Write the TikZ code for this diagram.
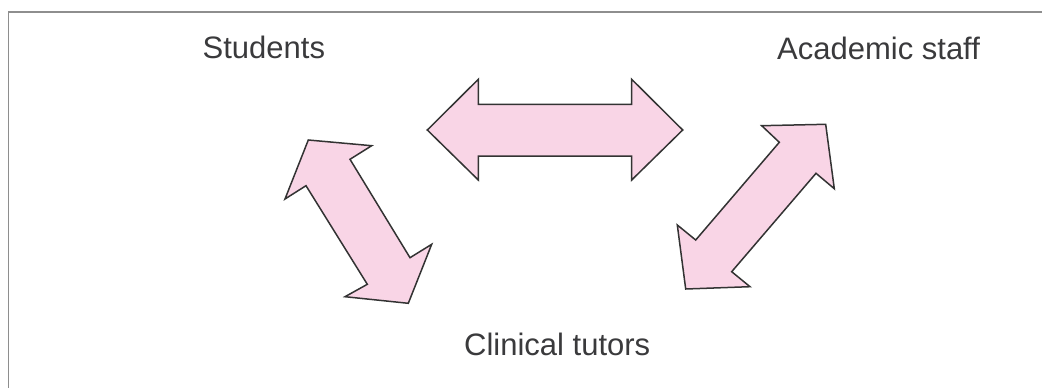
\documentclass[tikz,border=0pt]{standalone}
\usepackage{fontspec}
\setmainfont{Liberation Sans}
\definecolor{framegray}{HTML}{8E8E8E}
\definecolor{pinkfill}{HTML}{F9D5E6}
\definecolor{arrowline}{HTML}{333333}
\definecolor{textgray}{HTML}{3A3A3C}
\begin{document}
\begin{tikzpicture}[x=1pt,y=-1pt,
  blockarrow/.style={fill=pinkfill,draw=arrowline,line width=1.5pt,line join=miter},
  label/.style={text=textgray,inner sep=0pt,anchor=base west,font=\fontsize{31}{37}\selectfont}]
\useasboundingbox (0,0) rectangle (1042,388);
\draw[framegray,line width=1.6pt] (8.5,388) -- (8.5,12) -- (1042,12);
\node[label] (students) at (202.5,58.3) {Students};
\node[label] (academic) at (777,59) {Academic staff};
\node[label] (clinical) at (464,355) {Clinical tutors};
% horizontal double arrow
\draw[blockarrow] (427.3,130) -- (478.3,79.3) -- (478.3,104.3) -- (631.7,104.3) -- (631.7,79.3)
  -- (682.7,130) -- (631.7,180) -- (631.7,156) -- (478.3,156) -- (478.3,180) -- cycle;
% left diagonal double arrow
\draw[blockarrow] (308.3,140) -- (371.7,145.7) -- (350,159.3) -- (410,257.7) -- (431.7,244.3)
  -- (408.3,303.3) -- (345,296.7) -- (367.3,284.3) -- (306,185.7) -- (285,199) -- cycle;
% right diagonal double arrow
\draw[blockarrow] (825.7,124.3) -- (834.3,188.7) -- (816,173.3) -- (731.7,271.7) -- (750,286.7)
  -- (685.7,289) -- (677.3,225) -- (695.7,240) -- (779.3,142.3) -- (761.7,125.7) -- cycle;
\end{tikzpicture}
\end{document}
